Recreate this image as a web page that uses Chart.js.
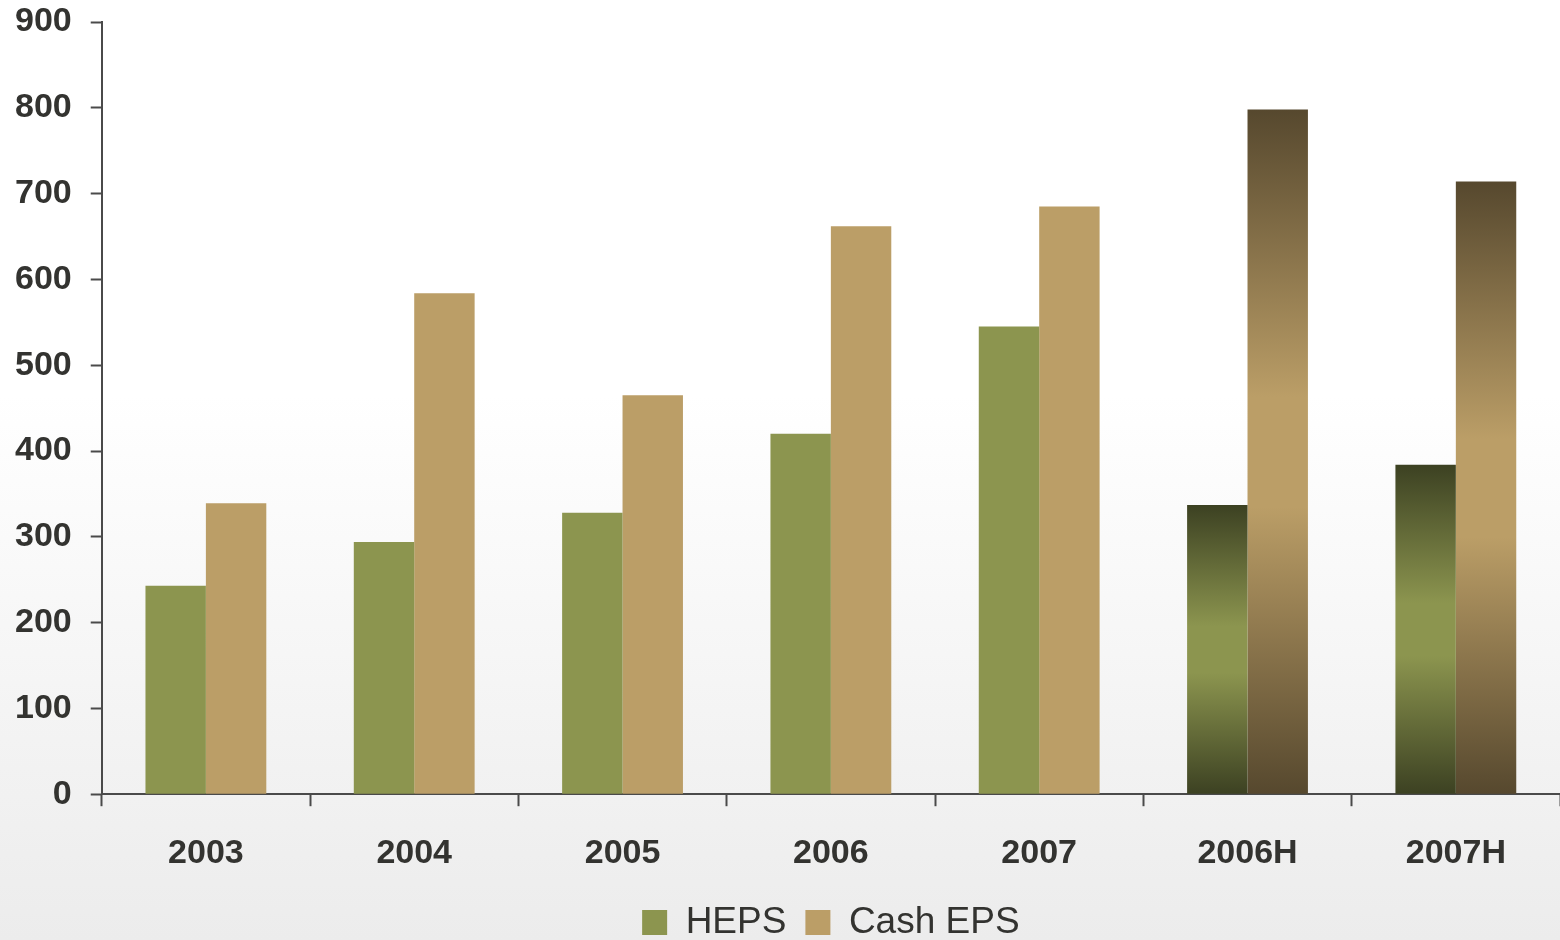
<!DOCTYPE html>
<html>
<head>
<meta charset="utf-8">
<script src="https://cdn.jsdelivr.net/npm/chart.js@4"></script>
<style>
  html, body { margin: 0; padding: 0; }
  body {
    width: 1560px;
    height: 940px;
    background: linear-gradient(to bottom, #ffffff 0%, #ffffff 42%, #ececec 100%);
    overflow: hidden;
  }
  #wrap { position: relative; width: 1560px; height: 940px; }
</style>
</head>
<body>
<div id="wrap"><canvas id="eps-chart"></canvas></div>
<script>
// Earnings per share, cents
const categories = ['2003', '2004', '2005', '2006', '2007', '2006H', '2007H'];
const heps = [243, 294, 328, 420, 545, 337, 384];
const cashEps = [339, 584, 465, 662, 685, 798, 714];
const yTicks = [0, 100, 200, 300, 400, 500, 600, 700, 800, 900];

const textColor = '#333330';
const axisColor = '#4a4a4a';
const fontFamily = 'Liberation Sans, Arial, sans-serif';

// half-year bars get a dark-light-dark vertical fill
function barFill(flat, dark) {
    return function(ctx) {
        if (ctx.type !== 'data') return flat;
        if (!categories[ctx.dataIndex].endsWith('H')) return flat;
        const chart = ctx.chart;
        const yScale = chart.scales.y;
        if (!yScale || !chart.chartArea) return flat;
        const top = yScale.getPixelForValue(ctx.raw);
        const base = yScale.getPixelForValue(0);
        if (!isFinite(top) || !isFinite(base) || top === base) return flat;
        const g = chart.ctx.createLinearGradient(0, top, 0, base);
        g.addColorStop(0, dark);
        g.addColorStop(0.42, flat);
        g.addColorStop(0.58, flat);
        g.addColorStop(1, dark);
        return g;
    };
}

const epsChart = new Chart(document.getElementById('eps-chart'), {
    type: 'bar',
    data: {
        labels: categories,
        datasets: [{
            label: 'HEPS',
            data: heps,
            backgroundColor: barFill('#8c954f', '#3c4122'),
            borderWidth: 0,
        }, {
            label: 'Cash EPS',
            data: cashEps,
            backgroundColor: barFill('#bb9e67', '#56482e'),
            borderWidth: 0,
        }],
    },
    options: {
        responsive: true,
        maintainAspectRatio: false,
        animation: false,
        events: [],
        layout: { padding: { left: -4, right: 0, top: 0, bottom: -11 } },
        datasets: {
            bar: { categoryPercentage: 0.58, barPercentage: 1.0 },
        },
        scales: {
            x: {
                afterFit: function(scale) {
                    scale.height -= 16;
                },
                grid: {
                    display: true,
                    offset: true,
                    drawOnChartArea: false,
                    drawTicks: true,
                    tickLength: 12,
                    tickWidth: 2,
                    tickColor: axisColor,
                },
                border: { display: true, color: axisColor, width: 2 },
                ticks: {
                    color: textColor,
                    padding: 27,
                    font: { family: fontFamily, size: 34, weight: 'bold' },
                },
            },
            y: {
                min: 0,
                max: 900,
                afterBuildTicks: function(scale) {
                    scale.ticks = yTicks.map(v => ({ value: v }));
                },
                afterFit: function(scale) {
                    // keep the 900 tick close to the top edge
                    scale.paddingTop = 22;
                },
                grid: {
                    display: true,
                    drawOnChartArea: false,
                    drawTicks: true,
                    tickLength: 11,
                    tickWidth: 2,
                    tickColor: axisColor,
                },
                border: { display: true, color: axisColor, width: 2 },
                ticks: {
                    color: textColor,
                    padding: 19,
                    font: { family: fontFamily, size: 34, weight: 'bold' },
                },
            },
        },
        plugins: {
            legend: {
                position: 'bottom',
                fullSize: false,
                labels: {
                    boxWidth: 25,
                    boxHeight: 25,
                    padding: 19,
                    color: textColor,
                    font: { family: fontFamily, size: 37 },
                },
            },
            tooltip: { enabled: false },
        },
    },
});
</script>
</body>
</html>
